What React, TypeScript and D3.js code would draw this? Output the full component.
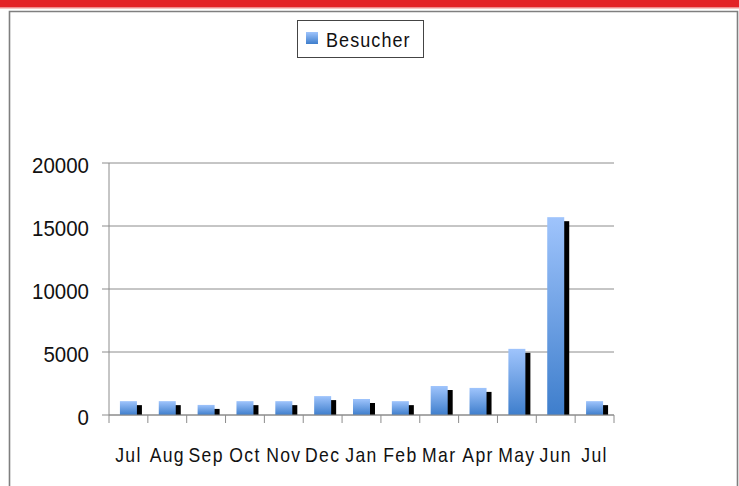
import React from "react";
import * as d3 from "d3";

const months = ["Jul", "Aug", "Sep", "Oct", "Nov", "Dec", "Jan", "Feb", "Mar", "Apr", "May", "Jun", "Jul"];
const visitors = [1100, 1100, 800, 1100, 1100, 1500, 1270, 1100, 2300, 2150, 5250, 15700, 1100];
const yTicks = [0, 5000, 10000, 15000, 20000];
const seriesName = "Besucher";

const W = 739;
const H = 486;

export default function App() {
  const x = d3
    .scaleBand<number>()
    .domain(months.map((_, i) => i))
    .range([109, 614])
    .paddingInner(0.5625)
    .paddingOuter(0.28125);
  const step = x.step();
  const x0 = 109;
  const y = d3.scaleLinear().domain([0, 20000]).range([415, 163]);
  const font = "'Liberation Sans', Arial, sans-serif";

  return (
    <svg
      width={W}
      height={H}
      style={{ position: "absolute", left: 0, top: 0, background: "#fff" }}
    >
      <defs>
        <linearGradient id="barGrad" x1="0" y1="0" x2="0" y2="1">
          <stop offset="0%" stopColor="#9fc4fc" />
          <stop offset="100%" stopColor="#3e7ecc" />
        </linearGradient>
        <clipPath id="plotClip">
          <rect x={100} y={100} width={540} height={315} />
        </clipPath>
      </defs>
      {/* top red band */}
      <rect x={0} y={0} width={W} height={7} fill="#e32227" />
      <rect x={0} y={7} width={W} height={1.5} fill="#f08a8c" />
      {/* frame */}
      <path d={`M9.5,${H} V11.5 H737.5 V${H}`} fill="none" stroke="#7f7f7f" strokeWidth={1.6} />

      {/* legend */}
      <rect x={297.5} y={20.5} width={126} height={37} fill="#fff" stroke="#444" strokeWidth={1} />
      <rect x={306} y={32} width={12} height={12} fill="url(#barGrad)" />
      <text
        transform="translate(326,47) scale(0.9,1)"
        fontFamily={font}
        fontSize={20}
        letterSpacing={1.2}
        fill="#111"
      >
        {seriesName}
      </text>

      {/* gridlines */}
      {yTicks.map((t) => (
        <line key={"g" + t} x1={102} x2={614} y1={y(t)} y2={y(t)} stroke="#8c8c8c" strokeWidth={1} />
      ))}
      {/* y axis */}
      <line x1={x0} x2={x0} y1={y(20000)} y2={y(0) + 8} stroke="#8c8c8c" strokeWidth={1} />
      {yTicks.map((t) => (
        <text
          key={"yl" + t}
          transform={`translate(89,${y(t) + 2.5}) scale(0.93,1)`}
          textAnchor="end"
          dominantBaseline="central"
          fontFamily={font}
          fontSize={22}
          fill="#111"
        >
          {t}
        </text>
      ))}

      {/* bars with shadow */}
      <g clipPath="url(#plotClip)">
        {visitors.map((v, i) => (
          <rect
            key={"s" + i}
            x={(x(i) as number) + 5}
            y={y(v) + 4}
            width={x.bandwidth()}
            height={y(0) - y(v)}
            fill="#000"
          />
        ))}
        {visitors.map((v, i) => (
          <rect
            key={"b" + i}
            x={x(i) as number}
            y={y(v)}
            width={x.bandwidth()}
            height={y(0) - y(v)}
            fill="url(#barGrad)"
          />
        ))}
      </g>

      {/* x axis */}
      <line x1={x0} x2={614} y1={y(0)} y2={y(0)} stroke="#8c8c8c" strokeWidth={1} />
      {months.map((_, i) => (
        <line
          key={"xt" + i}
          x1={x0 + step * (i + 1)}
          x2={x0 + step * (i + 1)}
          y1={y(0)}
          y2={y(0) + 8}
          stroke="#8c8c8c"
          strokeWidth={1}
        />
      ))}
      {months.map((m, i) => (
        <text
          key={"xl" + i}
          transform={`translate(${x0 + step * (i + 0.5)},462) scale(0.88,1)`}
          textAnchor="middle"
          fontFamily={font}
          fontSize={20}
          letterSpacing={1.5}
          fill="#111"
        >
          {m}
        </text>
      ))}
    </svg>
  );
}
